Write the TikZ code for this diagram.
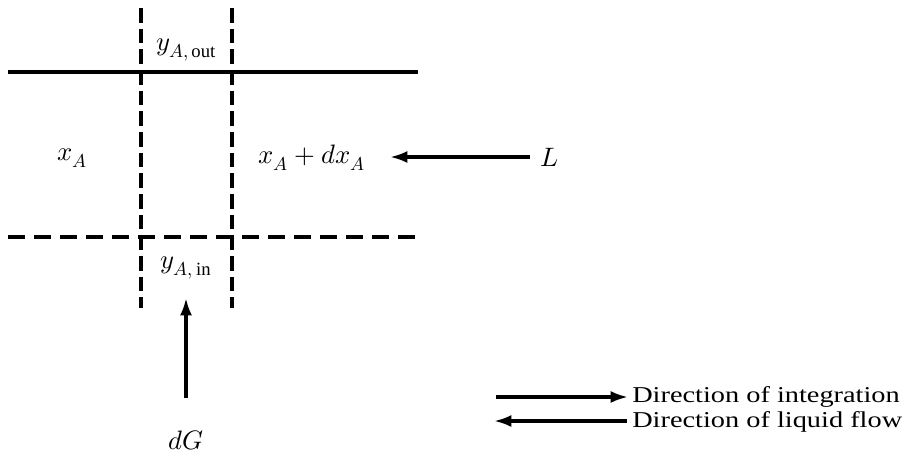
\documentclass[tikz,border=0pt]{standalone}
\usepackage{fontspec}
\setmainfont{Liberation Serif}
\newfontfamily\legfont[FakeStretch=1.25]{Liberation Serif}
\usepackage{unicode-math}
\setmathfont{Latin Modern Math}
\usetikzlibrary{arrows.meta}
\begin{document}
\begin{tikzpicture}[x=0.75pt,y=-0.75pt,
  solidline/.style={line width=2.4pt},
  vdash/.style={line width=2.4pt,dash pattern=on 11pt off 4.5pt},
  hdash/.style={line width=2.4pt,dash pattern=on 12.75pt off 6.75pt},
  arr/.style={line width=2.4pt,-{Latex[length=13pt,width=9pt]}},
  lab/.style={font=\fontsize{20}{22}\selectfont, inner sep=0pt},
  leg/.style={font=\legfont\fontsize{17}{18}\selectfont, inner sep=0pt, anchor=west}]
\useasboundingbox (0,0) rectangle (913,465);
% frame lines
\coordinate (tl) at (8,72); \coordinate (tr) at (418,72);
\coordinate (bl) at (8,237); \coordinate (br) at (418,237);
\coordinate (v1t) at (141,8); \coordinate (v1b) at (141,308);
\coordinate (v2t) at (232,8); \coordinate (v2b) at (232,308);
\draw[solidline] (tl) -- (tr);
\draw[hdash] (bl) -- (br);
\draw[vdash] (v1t) -- (v1b);
\draw[vdash] (v2t) -- (v2b);
% labels
\node[lab] (yout) at (186,50) {$y_{A,\,\mathrm{out}}$};
\node[lab] (yin) at (186,268) {$y_{A,\,\mathrm{in}}$};
\node[lab] (xa) at (72,158) {$x_A$};
\node[lab] (xdx) at (312,158) {$x_A + dx_A$};
\node[lab] (L) at (550,157) {$L$};
\node[lab] (dG) at (186,440) {$dG$};
% arrows
\coordinate (Lstart) at (530,157);
\coordinate (Lend) at (390,157);
\draw[arr] (Lstart) -- (Lend);
\coordinate (Gstart) at (186,398);
\coordinate (Gend) at (186,298);
\draw[arr] (Gstart) -- (Gend);
% legend
\node[leg] (int) at (632,397) {Direction of integration};
\node[leg] (liq) at (632,422) {Direction of liquid flow};
\coordinate (i0) at (496,397);
\coordinate (l0) at (494,421);
\draw[arr,shorten >=3pt] (i0) -- (i0 -| int.west);
\draw[arr] ([xshift=-4pt]l0 -| liq.west) -- (l0);
\end{tikzpicture}
\end{document}
